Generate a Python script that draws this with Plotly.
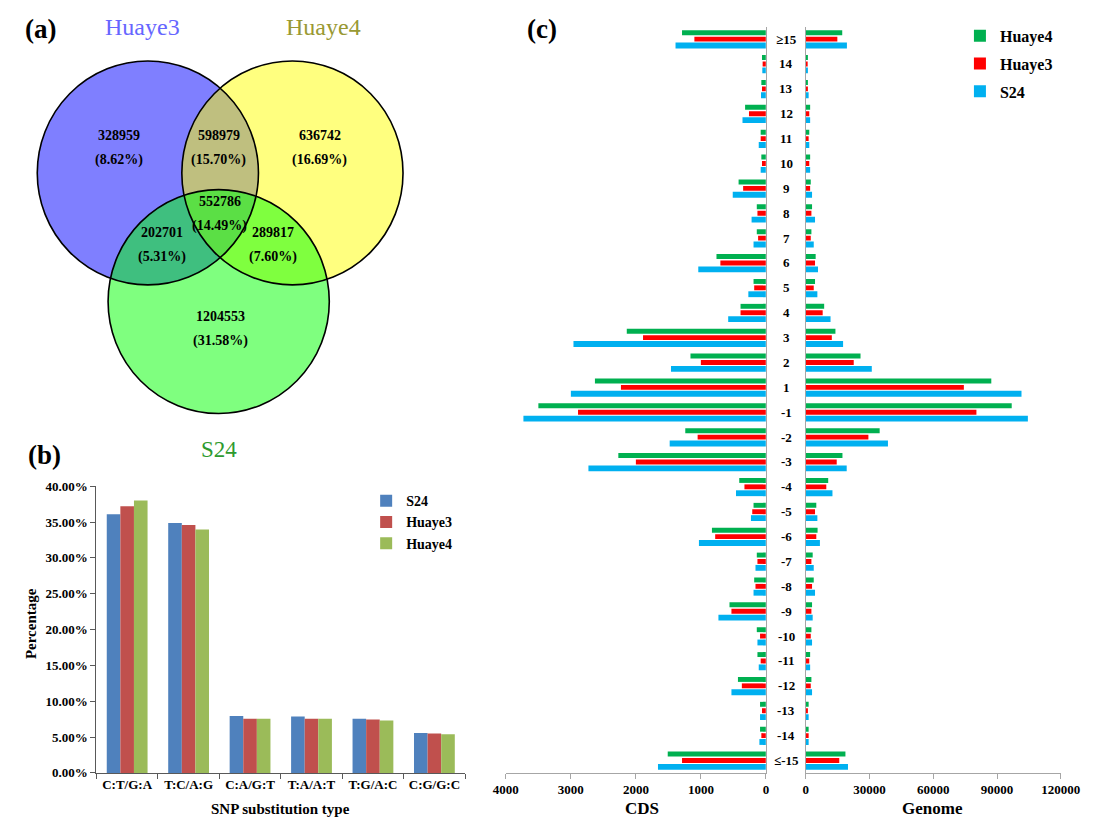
import numpy as np
import plotly.graph_objects as go

W, H = 1108, 829
SERIF = "Times New Roman, Liberation Serif, serif"


def px(x):
    return x / W


def py(y):
    return 1 - y / H


# ---------------- (a) Venn diagram data ----------------
venn_regions = ["Huaye3", "Huaye3&Huaye4", "Huaye4", "all", "Huaye3&S24", "Huaye4&S24", "S24"]
venn_counts = [328959, 598979, 636742, 552786, 202701, 289817, 1204553]

# ---------------- (b) SNP substitution types ----------------
snp_types = ["C:T/G:A", "T:C/A:G", "C:A/G:T", "T:A/A:T", "T:G/A:C", "C:G/G:C"]
snp_s24 = [36.07, 34.85, 7.95, 7.85, 7.55, 5.57]
snp_huaye3 = [37.20, 34.60, 7.55, 7.55, 7.45, 5.48]
snp_huaye4 = [37.99, 33.97, 7.55, 7.55, 7.30, 5.39]

# ---------------- (c) distance categories ----------------
dist_cats = ["≥15", "14", "13", "12", "11", "10", "9", "8", "7", "6", "5", "4", "3", "2", "1",
             "-1", "-2", "-3", "-4", "-5", "-6", "-7", "-8", "-9", "-10", "-11", "-12", "-13", "-14", "≤-15"]
cds_huaye4 = [1290, 60, 70, 320, 80, 70, 420, 140, 140, 760, 190, 390, 2140, 1160, 2630,
              3500, 1240, 2270, 410, 190, 830, 140, 180, 560, 140, 130, 430, 90, 90, 1510]
cds_huaye3 = [1100, 50, 60, 260, 80, 60, 350, 130, 120, 700, 180, 390, 1890, 1000, 2230,
              2890, 1050, 2000, 330, 210, 780, 130, 160, 530, 90, 80, 370, 60, 70, 1290]
cds_s24 = [1390, 55, 75, 360, 110, 80, 510, 220, 190, 1040, 270, 580, 2960, 1460, 3000,
           3730, 1480, 2730, 460, 230, 1030, 160, 190, 730, 130, 110, 530, 90, 100, 1660]
genome_huaye4 = [17200, 1050, 1050, 2100, 1700, 2100, 2400, 3000, 2700, 4700, 4400, 8700, 14000, 25800, 87300,
                 96900, 34800, 17300, 10600, 5000, 5600, 3300, 3800, 3000, 2700, 2100, 2700, 1400, 1400, 18700]
genome_huaye3 = [14900, 750, 1050, 1700, 1400, 1700, 2100, 2700, 2400, 4400, 3800, 8000, 12300, 22600, 74400,
                 80300, 29500, 14600, 9700, 4400, 5000, 2700, 3000, 2700, 2400, 1700, 2400, 1050, 1400, 15800]
genome_s24 = [19400, 1050, 1400, 2100, 1700, 2100, 3000, 4400, 3800, 5800, 5500, 11700, 17600, 31100, 101500,
              104500, 38700, 19300, 12600, 5500, 6700, 3800, 4400, 3300, 3000, 2100, 3000, 1400, 1400, 19900]

fig = go.Figure()

# ---- panel (b) bars ----
b_series = [("S24", snp_s24, "#4f81bd"), ("Huaye3", snp_huaye3, "#c0504d"), ("Huaye4", snp_huaye4, "#9bbb59")]
for name, vals, col in b_series:
    fig.add_trace(go.Bar(x=snp_types, y=vals, name=name, marker=dict(color=col, line=dict(width=0)),
                         xaxis="x", yaxis="y", legend="legend2"))

# ---- panel (c) bars: CDS (left) and Genome (right) ----
c_series = [
    ("Huaye4", cds_huaye4, genome_huaye4, "#00b050", -0.355, 0.197),
    ("Huaye3", cds_huaye3, genome_huaye3, "#ff0000", -0.098, 0.197),
    ("S24", cds_s24, genome_s24, "#00b0f0", 0.14, 0.235),
]
for name, cds, gen, col, off, wd in c_series:
    fig.add_trace(go.Bar(y=dist_cats, x=cds, orientation="h", name=name, legendgroup=name,
                         marker=dict(color=col, line=dict(width=0)), offset=off, width=wd,
                         xaxis="x2", yaxis="y2", legend="legend"))
    fig.add_trace(go.Bar(y=dist_cats, x=gen, orientation="h", name=name, legendgroup=name, showlegend=False,
                         marker=dict(color=col, line=dict(width=0)), offset=off, width=wd,
                         xaxis="x3", yaxis="y3"))

# ---- Venn geometry (pixel space) ----
circles = {
    "A": (139.0, 169.0, 114.0),   # Huaye3
    "B": (288.0, 169.0, 114.0),   # Huaye4
    "C": (212.0, 300.0, 114.0),   # S24
}
circle_fill = {"A": "#7f7fff", "B": "#ffff7f", "C": "#7fff7f"}
overlap_fill = [("AB", "#bfbf7f"), ("AC", "#3fbf7f"), ("BC", "#7fff3f"), ("ABC", "#5bdf45")]


def region_path(keys, n=1440):
    pts = []
    t = np.linspace(0, 2 * np.pi, n, endpoint=False)
    for k in keys:
        cx, cy, r = circles[k]
        xs, ys = cx + r * np.cos(t), cy + r * np.sin(t)
        ok = np.ones(n, dtype=bool)
        for o in keys:
            if o == k:
                continue
            ox, oy, orr = circles[o]
            ok &= (xs - ox) ** 2 + (ys - oy) ** 2 <= orr ** 2 + 1e-6
        pts.extend(zip(xs[ok], ys[ok]))
    pts = np.array(pts)
    c = pts.mean(axis=0)
    ang = np.arctan2(pts[:, 1] - c[1], pts[:, 0] - c[0])
    pts = pts[np.argsort(ang)]
    return "M " + " L ".join(f"{px(x):.5f},{py(y):.5f}" for x, y in pts) + " Z"


shapes = []
for k, col in circle_fill.items():
    cx, cy, r = circles[k]
    shapes.append(dict(type="circle", xref="paper", yref="paper", x0=px(cx - r), x1=px(cx + r),
                       y0=py(cy + r), y1=py(cy - r), fillcolor=col, line=dict(width=0)))
for keys, col in overlap_fill:
    shapes.append(dict(type="path", xref="paper", yref="paper", path=region_path(keys),
                       fillcolor=col, line=dict(width=0)))
for k in circles:
    cx, cy, r = circles[k]
    shapes.append(dict(type="circle", xref="paper", yref="paper", x0=px(cx - r), x1=px(cx + r),
                       y0=py(cy + r), y1=py(cy - r), fillcolor="rgba(0,0,0,0)",
                       line=dict(color="black", width=1.6)))

annotations = []


def add_text(x, y, text, size, color="black", bold=True, **kw):
    annotations.append(dict(x=px(x), y=py(y), xref="paper", yref="paper", text=text, showarrow=False,
                            xanchor=kw.pop("xanchor", "center"), yanchor="middle",
                            font=dict(family=SERIF, size=size, color=color,
                                      weight="bold" if bold else "normal"), **kw))


# Venn labels
total = sum(venn_counts)
venn_pos = [(109, 131), (212, 131), (316, 131), (213, 198), (154, 230), (268, 230), (214, 315)]
for (x, y), cnt in zip(venn_pos, venn_counts):
    add_text(x, y, f"{cnt}", 14)
    add_text(x, y + 25, f"({cnt / total * 100:.2f}%)", 14)
add_text(133, 20, "Huaye3", 24, color="#6666ff", bold=False)
add_text(320, 20, "Huaye4", 24, color="#999933", bold=False)
add_text(212, 451, "S24", 23, color="#2e9a2e", bold=False)

# panel letters
add_text(28, 22, "(a)", 27)
add_text(32, 456, "(b)", 27)
add_text(545, 22, "(c)", 27)

# axis titles
add_text(276, 817, "SNP substitution type", 15)
add_text(18, 628, "Percentage", 15, textangle=-90)
add_text(648, 816, "CDS", 17)
add_text(948, 816, "Genome", 17)

# category labels of panel (c), placed between the two halves (by category index)
for i, cat in enumerate(dist_cats):
    annotations.append(dict(x=px(797), y=i, xref="paper", yref="y2", text=cat, showarrow=False,
                            xanchor="center", yanchor="middle",
                            font=dict(family=SERIF, size=13, color="black", weight="bold")))

tickfont = dict(family=SERIF, size=13, color="black", weight="bold")
ax_c = dict(showline=True, linecolor="#a6a6a6", linewidth=1, ticks="outside", ticklen=5,
            tickcolor="#a6a6a6", showgrid=False, zeroline=False, tickfont=tickfont, tickformat="d")
ydom_c = [py(780), py(20)]

fig.update_layout(
    width=W, height=H, margin=dict(l=0, r=0, t=0, b=0),
    paper_bgcolor="white", plot_bgcolor="white",
    barmode="group", bargap=0.336, bargroupgap=0,
    xaxis=dict(domain=[px(86), px(466)], anchor="y", type="category", tickson="boundaries",
               ticks="outside", ticklen=5, tickcolor="#595959", showline=True, linecolor="#595959",
               showgrid=False, tickfont=tickfont),
    yaxis=dict(domain=[py(780), py(488)], anchor="x", range=[0, 40], dtick=5, tickformat=".2f",
               ticksuffix="%", ticks="outside", ticklen=5, tickcolor="#595959", showline=True,
               linecolor="#595959", showgrid=False, zeroline=False, tickfont=tickfont),
    xaxis2=dict(domain=[px(508), px(776)], anchor="y2", range=[4000, 0], dtick=1000, **ax_c),
    yaxis2=dict(domain=ydom_c, anchor="x2", type="category", categoryorder="array",
                categoryarray=dist_cats, range=[29.5, -0.5], side="right", showline=True,
                linecolor="#a6a6a6", showticklabels=False, ticks="", showgrid=False),
    xaxis3=dict(domain=[px(817), px(1080)], anchor="y3", range=[0, 120000], dtick=30000, **ax_c),
    yaxis3=dict(domain=ydom_c, anchor="x3", type="category", categoryorder="array",
                categoryarray=dist_cats, range=[29.5, -0.5], side="left", showline=True,
                linecolor="#a6a6a6", showticklabels=False, ticks="", showgrid=False),
    legend=dict(x=px(976), y=py(12), xanchor="left", yanchor="top", traceorder="grouped",
                tracegroupgap=4, itemwidth=30, bgcolor="rgba(0,0,0,0)",
                font=dict(family=SERIF, size=16, color="black", weight="bold")),
    legend2=dict(x=px(364), y=py(487), xanchor="left", yanchor="top", traceorder="normal",
                 itemwidth=30, bgcolor="rgba(0,0,0,0)",
                 font=dict(family=SERIF, size=14, color="black", weight="bold")),
    shapes=shapes,
    annotations=annotations,
)

fig.write_html("out.html")
